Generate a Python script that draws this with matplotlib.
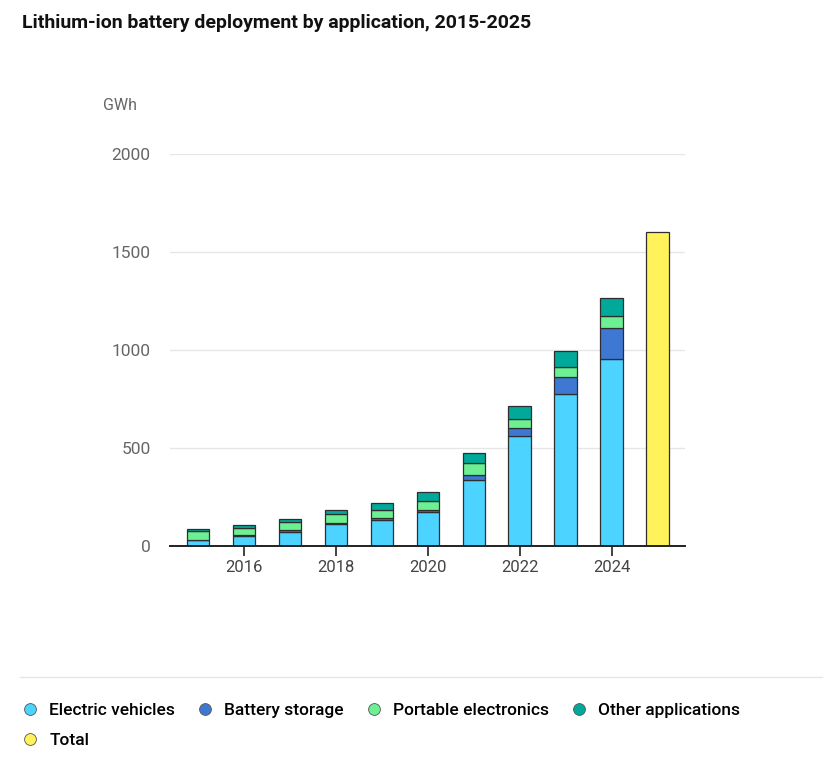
import numpy as np
import matplotlib.pyplot as plt
from matplotlib.lines import Line2D

years = [2015, 2016, 2017, 2018, 2019, 2020, 2021, 2022, 2023, 2024]
ev = [30, 50, 73, 111, 134, 173, 338, 561, 776, 952]
storage = [2, 8, 8, 8, 9, 11, 23, 39, 88, 159]
portable = [42, 35, 41, 43, 41, 47, 61, 50, 48, 61]
other = [13, 13, 14, 22, 34, 43, 51, 63, 83, 92]
total_year = [2025]
total = [1600]

series_names = ["Electric vehicles", "Battery storage", "Portable electronics", "Other applications"]
colors = ["#4dd3ff", "#3f78d3", "#6cf093", "#00a99a"]
total_color = "#fff25a"

plt.rcParams['font.family'] = ['Roboto', 'DejaVu Sans']

fig = plt.figure(figsize=(8.29, 7.63), dpi=100)
ax = fig.add_axes([0.205, 0.2844, 0.621, 0.5138])

x = np.array(years)
bottom = np.zeros(len(years))
for vals, c in zip([ev, storage, portable, other], colors):
    ax.bar(x, vals, width=0.49, bottom=bottom, color=c, edgecolor="#2e2e2e", linewidth=0.9, zorder=3)
    bottom += np.array(vals)
ax.bar(total_year, total, width=0.49, color=total_color, edgecolor="#2e2e2e", linewidth=0.9, zorder=3)

ax.set_xlim(2014.39, 2025.59)
ax.set_ylim(0, 2000)
ax.set_yticks([0, 500, 1000, 1500, 2000])
ax.set_xticks([2016, 2018, 2020, 2022, 2024])
ax.grid(axis="y", color="#e6e6e6", linewidth=1, zorder=0)
for s in ["top", "right", "left"]:
    ax.spines[s].set_visible(False)
ax.spines["bottom"].set_linewidth(1.4)
ax.spines["bottom"].set_color("#222222")
ax.spines["bottom"].set_zorder(4)
ax.tick_params(axis="y", length=0, pad=14, labelsize=12.5, labelcolor="#666666")
ax.tick_params(axis="x", length=7, width=1.3, color="#333333", pad=3, labelsize=12, labelcolor="#444444")

fig.text(103 / 829, 1 - 106 / 763, "GWh", fontsize=11.5, color="#666666", va="center")
fig.text(22 / 829, 1 - 23 / 763, "Lithium-ion battery deployment by application, 2015-2025",
         fontsize=14, fontweight="bold", color="#111111", va="center")

fig.add_artist(Line2D([20 / 829, 822 / 829], [1 - 677 / 763] * 2, color="#e6e6e6", linewidth=1))

handles = [Line2D([], [], linestyle="", marker="o", markersize=8.5, markerfacecolor=c,
                  markeredgecolor="#555555", markeredgewidth=0.6) for c in colors]
total_handle = Line2D([], [], linestyle="", marker="o", markersize=8.5, markerfacecolor=total_color,
                      markeredgecolor="#555555", markeredgewidth=0.6)
fig.legend([handles[0], total_handle] + handles[1:], [series_names[0], "Total"] + series_names[1:],
           ncol=4, loc="upper left", bbox_to_anchor=(6 / 829, 1 - 687 / 763), frameon=False,
           prop={"size": 12.5, "weight": "medium"}, handletextpad=0.6, columnspacing=1.22,
           labelspacing=0.85, handlelength=1)

fig.savefig("out.png", dpi=100)
